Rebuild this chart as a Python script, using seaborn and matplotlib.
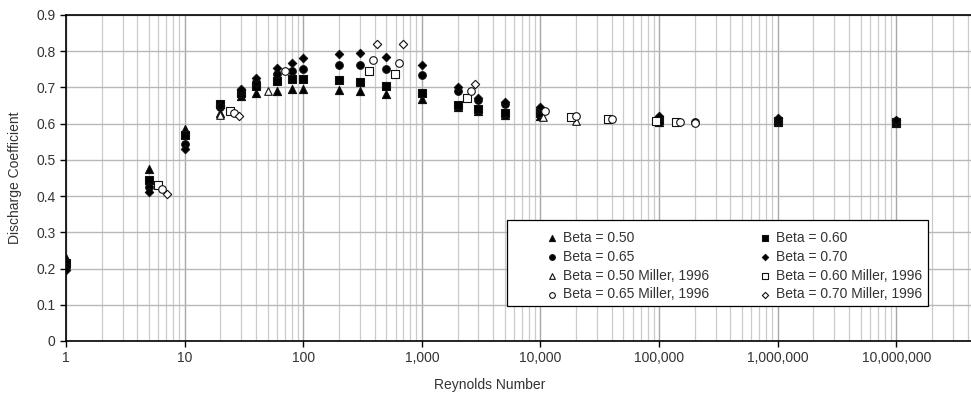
import numpy as np
import pandas as pd
import seaborn as sns
import matplotlib
matplotlib.use("Agg")
import matplotlib.pyplot as plt
from matplotlib.ticker import FixedLocator, FixedFormatter, LogLocator, NullFormatter
from matplotlib.patches import Rectangle

# values
re_b50 = [1, 5, 10, 20, 30, 40, 60, 80, 100, 200, 300, 500, 1000, 2000, 3000, 5000, 10000, 1e5, 1e6, 1e7]
cd_b50 = [0.23, 0.475, 0.585, 0.63, 0.675, 0.685, 0.69, 0.697, 0.697, 0.694, 0.69, 0.683, 0.667, 0.645,
          0.635, 0.625, 0.622, 0.605, 0.605, 0.603]

re_b60 = [1, 5, 10, 20, 30, 40, 60, 80, 100, 200, 300, 500, 1000, 2000, 3000, 5000, 10000, 1e5, 1e6, 1e7]
cd_b60 = [0.215, 0.445, 0.57, 0.655, 0.685, 0.705, 0.718, 0.724, 0.724, 0.72, 0.716, 0.703, 0.686, 0.652,
          0.64, 0.63, 0.63, 0.61, 0.607, 0.605]

re_b65 = [1, 5, 10, 20, 30, 40, 60, 80, 100, 200, 300, 500, 1000, 2000, 3000, 5000, 10000, 1e5, 2e5, 1e6, 1e7]
cd_b65 = [0.205, 0.425, 0.545, 0.645, 0.69, 0.715, 0.737, 0.746, 0.752, 0.763, 0.763, 0.752, 0.735, 0.69,
          0.665, 0.655, 0.64, 0.615, 0.605, 0.61, 0.607]

re_b70 = [1, 5, 10, 20, 30, 40, 60, 80, 100, 200, 300, 500, 1000, 2000, 3000, 5000, 10000, 1e5, 1e6, 1e7]
cd_b70 = [0.195, 0.41, 0.53, 0.65, 0.695, 0.725, 0.755, 0.768, 0.78, 0.793, 0.795, 0.785, 0.763, 0.70,
          0.67, 0.66, 0.645, 0.62, 0.615, 0.61]

# Miller, 1996 (open markers)
re_m50 = [20, 50, 10600, 20000]
cd_m50 = [0.625, 0.69, 0.618, 0.607]

re_m60 = [6, 24, 360, 590, 2400, 18000, 37000, 95000, 140000]
cd_m60 = [0.43, 0.635, 0.746, 0.738, 0.67, 0.618, 0.612, 0.607, 0.605]

re_m65 = [6.5, 26, 70, 390, 640, 2600, 11000, 20000, 40000, 150000, 200000]
cd_m65 = [0.42, 0.63, 0.745, 0.777, 0.768, 0.69, 0.635, 0.62, 0.613, 0.605, 0.603]

re_m70 = [7.1, 28.5, 420, 690, 2800]
cd_m70 = [0.405, 0.622, 0.82, 0.82, 0.71]

series_labels = ["Beta = 0.50", "Beta = 0.60", "Beta = 0.65", "Beta = 0.70",
                 "Beta = 0.50 Miller, 1996", "Beta = 0.60 Miller, 1996",
                 "Beta = 0.65 Miller, 1996", "Beta = 0.70 Miller, 1996"]

x_ticks = [1, 10, 100, 1000, 10000, 100000, 1000000, 10000000]
x_tick_labels = ["1", "10", "100", "1,000", "10,000", "100,000", "1,000,000", "10,000,000"]
y_ticks = [0, 0.1, 0.2, 0.3, 0.4, 0.5, 0.6, 0.7, 0.8, 0.9]
y_tick_labels = ["0", "0.1", "0.2", "0.3", "0.4", "0.5", "0.6", "0.7", "0.8", "0.9"]

pairs = [(re_b50, cd_b50), (re_b60, cd_b60), (re_b65, cd_b65), (re_b70, cd_b70),
         (re_m50, cd_m50), (re_m60, cd_m60), (re_m65, cd_m65), (re_m70, cd_m70)]
df = pd.concat([pd.DataFrame({"Re": r, "Cd": c, "series": lab})
                for lab, (r, c) in zip(series_labels, pairs)], ignore_index=True)

# marker, size, face colour
styles = {
    "Beta = 0.50": ("^", 34, "black"),
    "Beta = 0.60": ("s", 26, "black"),
    "Beta = 0.65": ("o", 30, "black"),
    "Beta = 0.70": ("D", 18, "black"),
    "Beta = 0.50 Miller, 1996": ("^", 30, "white"),
    "Beta = 0.60 Miller, 1996": ("s", 26, "white"),
    "Beta = 0.65 Miller, 1996": ("o", 30, "white"),
    "Beta = 0.70 Miller, 1996": ("D", 18, "white"),
}

sns.set_style("ticks")
plt.rcParams["font.family"] = ["Liberation Sans", "DejaVu Sans"]

fig = plt.figure(figsize=(9.71, 3.96), dpi=100)
ax = fig.add_axes([66 / 971, 55 / 396, 905 / 971, 326 / 396])
ax.set_xscale("log")

for lab in series_labels:
    m, s, fc = styles[lab]
    sns.scatterplot(data=df[df["series"] == lab], x="Re", y="Cd", marker=m, s=s,
                    color=fc, edgecolor="#111111", linewidth=0.8, ax=ax, label=lab, zorder=3)

ax.set_xlim(1, 10 ** 7.63)
ax.set_ylim(0, 0.9)
ax.xaxis.set_major_locator(FixedLocator(x_ticks))
ax.xaxis.set_major_formatter(FixedFormatter(x_tick_labels))
ax.xaxis.set_minor_locator(LogLocator(base=10, subs=np.arange(2, 10), numticks=20))
ax.xaxis.set_minor_formatter(NullFormatter())
ax.yaxis.set_major_locator(FixedLocator(y_ticks))
ax.yaxis.set_major_formatter(FixedFormatter(y_tick_labels))

ax.set_axisbelow(True)
ax.grid(which="major", axis="x", color="#a8a8a8", linewidth=1.0)
ax.grid(which="minor", axis="x", color="#cbcbcb", linewidth=0.9)
ax.grid(which="major", axis="y", color="#b8b8b8", linewidth=1.0)

for side in ["left", "bottom", "top"]:
    ax.spines[side].set_color("black")
    ax.spines[side].set_linewidth(1.2)
ax.spines["right"].set_visible(False)

ax.tick_params(which="major", direction="out", length=4, width=1, color="black",
               labelcolor="#333333", labelsize=10, pad=3.5)
ax.tick_params(which="minor", length=0)

ax.set_xlabel("Reynolds Number", fontsize=10, color="#333333")
ax.set_ylabel("Discharge Coefficient", fontsize=10, color="#333333")
ax.xaxis.set_label_coords(0.468, -0.113)
ax.yaxis.set_label_coords(-0.049, 0.5)

# legend: two columns, row-wise order as in the original
handles, labels = ax.get_legend_handles_labels()
order = [0, 2, 4, 6, 1, 3, 5, 7]
ax.add_patch(Rectangle((0.487, 0.107), 0.465, 0.264, transform=ax.transAxes,
                       facecolor="white", edgecolor="black", linewidth=0.9, zorder=4))
leg = ax.legend([handles[i] for i in order], [labels[i] for i in order], ncol=2,
                loc="upper left", bbox_to_anchor=(0.5215, 0.359), frameon=False,
                borderpad=0, handlelength=1.0, handletextpad=0.3, columnspacing=3.5,
                labelspacing=0.35, fontsize=10, markerscale=0.75)
for t in leg.get_texts():
    t.set_color("#333333")

fig.savefig("out.png", dpi=100)
